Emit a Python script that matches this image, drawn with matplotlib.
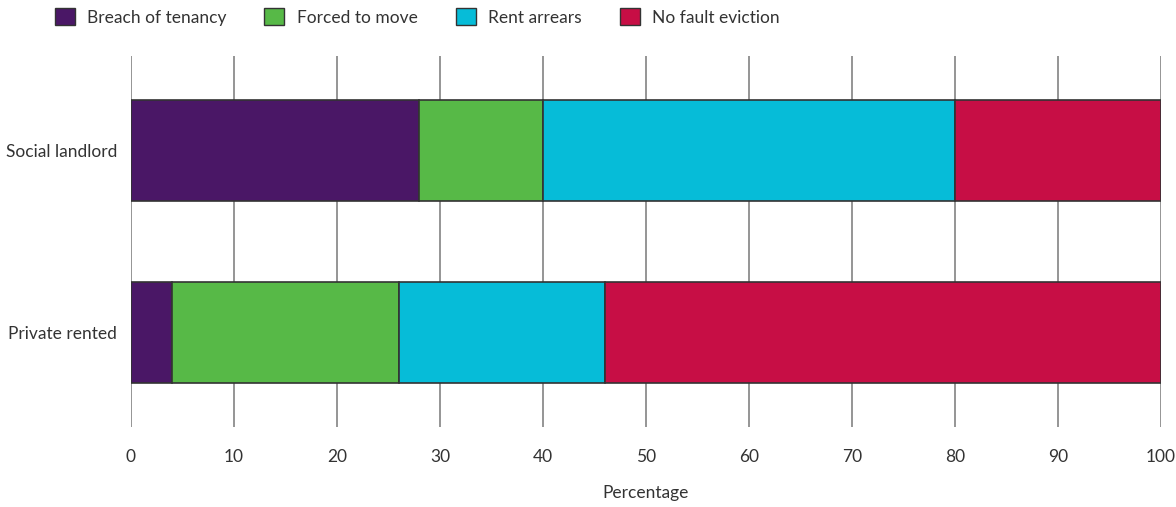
import matplotlib.pyplot as plt
from matplotlib.patches import Patch
import numpy as np

plt.rcParams['font.family'] = ['Lato', 'DejaVu Sans']

groups = ['Social landlord', 'Private rented']
reasons = ['Breach of tenancy', 'Forced to move', 'Rent arrears', 'No fault eviction']
colors = ['#4a1766', '#57b947', '#06bcd8', '#c70e45']
values = {
    'Breach of tenancy': [28, 4],
    'Forced to move': [12, 22],
    'Rent arrears': [40, 20],
    'No fault eviction': [20, 54],
}
ticks = list(range(0, 101, 10))

fig = plt.figure(figsize=(11.76, 5.07), dpi=100)
ax = fig.add_axes([131 / 1176, 1 - 427 / 507, 1030 / 1176, 371 / 507])

y = np.arange(len(groups))
left = np.zeros(len(groups))
for name, col in zip(reasons, colors):
    v = np.array(values[name])
    ax.barh(y, v, left=left, height=0.556, color=col, edgecolor='#333333',
            linewidth=1.2, zorder=3)
    left += v

ax.set_xlim(0, 100)
ax.set_ylim(1.523, -0.52)
ax.set_xticks(ticks)
ax.set_yticks(y)
ax.set_yticklabels(groups)
ax.grid(axis='x', color='#8c8c8c', linewidth=1.3, zorder=0)
for s in ax.spines.values():
    s.set_visible(False)
ax.tick_params(axis='both', length=0, labelsize=12.5, colors='#333333')
ax.tick_params(axis='x', pad=16)
ax.tick_params(axis='y', pad=10)
ax.set_xlabel('Percentage', fontsize=12.5, color='#333333', labelpad=14)

handles = [Patch(facecolor=c, edgecolor='#333333', linewidth=1.0) for c in colors]
fig.legend(handles, reasons, loc='center left', bbox_to_anchor=(39 / 1176, 1 - 17 / 507),
           ncol=4, frameon=False, fontsize=12.5, handlelength=1.15, handleheight=1.15,
           handletextpad=0.7, columnspacing=2.2, labelcolor='#333333')

fig.savefig('out.png', dpi=100)
